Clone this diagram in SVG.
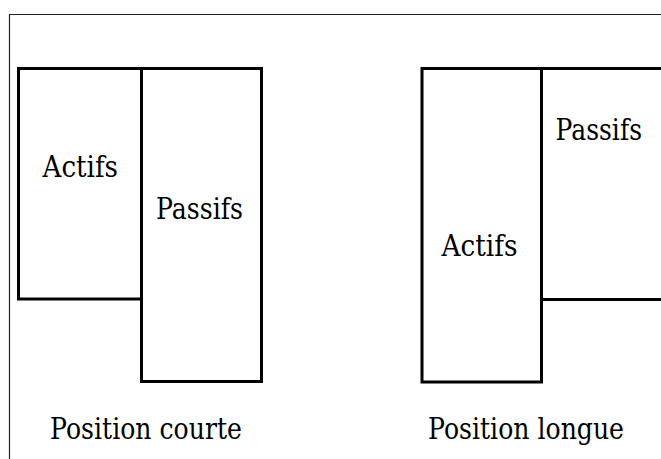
<svg xmlns="http://www.w3.org/2000/svg" width="661" height="459" viewBox="0 0 661 459">
<style>
.box{fill:none;stroke:#000;stroke-width:3}
.frame{fill:none;stroke:#222;stroke-width:1.2}
.t{font-family:'DejaVu Serif',serif;font-size:29px;fill:#000}
</style>
<rect width="661" height="459" fill="#fff"/>
<g id="frame">
<polyline class="frame" points="9.5,459 9.5,14.5 661,14.5"/>
</g>
<g id="short-actifs">
<rect class="box" x="18.5" y="68.5" width="123" height="230.5"/>
<text class="t" x="42.5" y="177" textLength="75.5" lengthAdjust="spacingAndGlyphs">Actifs</text>
</g>
<g id="short-passifs">
<rect class="box" x="141.5" y="68.5" width="120" height="313"/>
<text class="t" x="156" y="218.5" textLength="87" lengthAdjust="spacingAndGlyphs">Passifs</text>
</g>
<g id="long-actifs">
<rect class="box" x="422" y="68.5" width="119.5" height="313.5"/>
<text class="t" x="441.5" y="256" textLength="76" lengthAdjust="spacingAndGlyphs">Actifs</text>
</g>
<g id="long-passifs">
<polyline class="box" points="541.5,68.5 663,68.5"/>
<polyline class="box" points="541.5,299.5 663,299.5"/>
<text class="t" x="555.5" y="140" textLength="86.5" lengthAdjust="spacingAndGlyphs">Passifs</text>
</g>
<g id="connectors"></g>
<g id="labels">
<text class="t" x="50" y="439" textLength="192" lengthAdjust="spacingAndGlyphs">Position courte</text>
<text class="t" x="428" y="439" textLength="196" lengthAdjust="spacingAndGlyphs">Position longue</text>
</g>
</svg>
